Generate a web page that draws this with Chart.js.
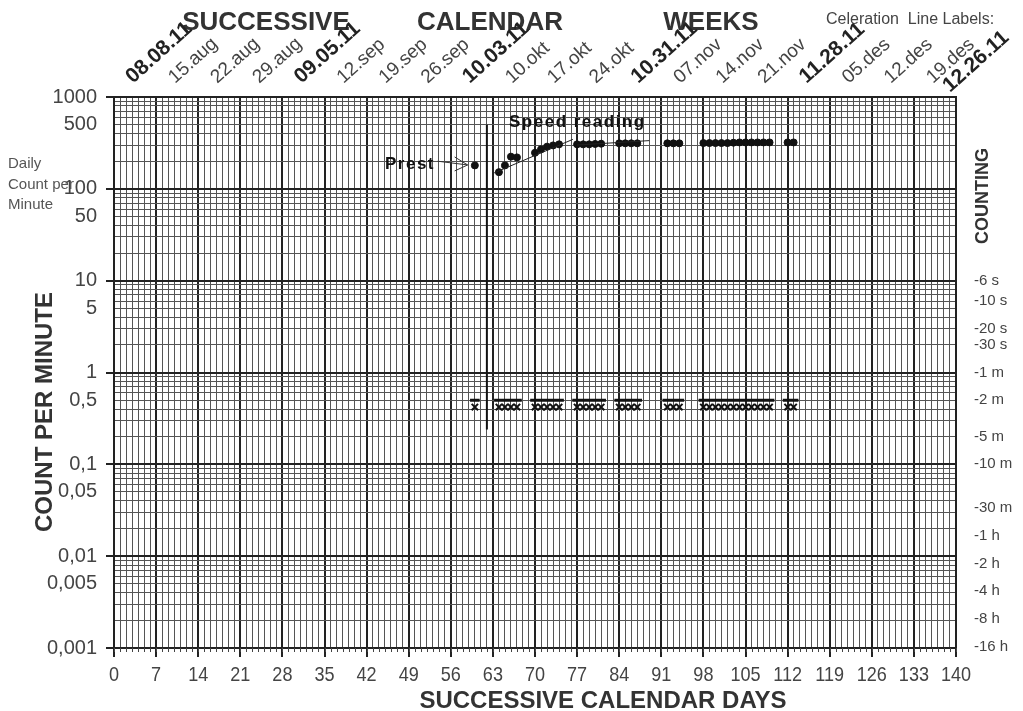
<!DOCTYPE html>
<html>
<head>
<meta charset="utf-8">
<script src="https://cdn.jsdelivr.net/npm/chart.js@4.4.1/dist/chart.umd.min.js"></script>
<style>
  body { margin: 0; background: #fff; }
  #wrap { width: 1023px; height: 711px; }
</style>
</head>
<body>
<div id="wrap"><canvas id="scc"></canvas></div>
<script>
var dayMin = 0, dayMax = 140, dayStep = 7;

// top axis: calendar weeks (every 7 days), the bold ones start a 4 week block
var weekLabels = ['08.08.11', '15.aug', '22.aug', '29.aug', '09.05.11', '12.sep', '19.sep', '26.sep',
	'10.03.11', '10.okt', '17.okt', '24.okt', '10.31.11', '07.nov', '14.nov', '21.nov',
	'11.28.11', '05.des', '12.des', '19.des', '12.26.11'];

var leftTickValues = [1000, 500, 100, 50, 10, 5, 1, 0.5, 0.1, 0.05, 0.01, 0.005, 0.001];
var leftTickLabels = ['1000', '500', '100', '50', '10', '5', '1', '0,5', '0,1', '0,05', '0,01', '0,005', '0,001'];

// counting times (right axis) as count per minute
var timingValues = [10, 6, 3, 2, 1, 0.5, 0.2, 0.1, 1 / 30, 1 / 60, 1 / 120, 1 / 240, 1 / 480, 1 / 960];
var timingLabels = ['-6 s', '-10 s', '-20 s', '-30 s', '-1 m', '-2 m', '-5 m', '-10 m', '-30 m', '-1 h', '-2 h', '-4 h', '-8 h', '-16 h'];

var speedDays = [60, 64, 65, 66, 67, 70, 71, 72, 73, 74, 77, 78, 79, 80, 81, 84, 85, 86, 87, 92, 93, 94,
	98, 99, 100, 101, 102, 103, 104, 105, 106, 107, 108, 109, 112, 113];
var speedValues = [180, 152, 180, 224, 220, 247, 269, 288, 297, 305, 305, 305, 305, 308, 310, 313, 313, 313, 313, 313, 313, 313,
	315, 315, 315, 315, 315, 318, 320, 320, 320, 320, 320, 320, 320, 320];
var errorValues = [0.42, 0.42, 0.42, 0.42, 0.42, 0.42, 0.42, 0.42, 0.42, 0.42, 0.42, 0.42, 0.42, 0.42, 0.42, 0.42, 0.42, 0.42, 0.42, 0.42, 0.42, 0.42,
	0.42, 0.42, 0.42, 0.42, 0.42, 0.42, 0.42, 0.42, 0.42, 0.42, 0.42, 0.42, 0.42, 0.42];

// record floor (2 minute timing) per group of days
var floorStart = [60, 64, 70, 77, 84, 92, 98, 112];
var floorEnd = [60, 67, 74, 81, 87, 94, 109, 113];
var floorValue = 0.5;

// celeration lines [day, value] start and end
var cel1Days = [63.2, 76.3], cel1Values = [149, 346];
var cel2Days = [77, 89], cel2Values = [300, 335];

var phaseDay = 62, phaseLow = 0.24, phaseHigh = 500;

var FONT = "'Liberation Sans', Arial, sans-serif";

function logGrid() {
	var v = [];
	for (var k = -3; k <= 2; k++) {
		for (var m = 1; m <= 9; m++) v.push(Number((m * Math.pow(10, k)).toPrecision(6)));
	}
	v.push(1000);
	return v;
}
function isDecade(v) {
	var l = Math.log10(v);
	return Math.abs(l - Math.round(l)) < 1e-6;
}
function findLabel(vals, labels, v) {
	for (var i = 0; i < vals.length; i++) {
		if (Math.abs(vals[i] - v) / vals[i] < 1e-6) return labels[i];
	}
	return '';
}

var speedData = speedDays.map(function (d, i) { return { x: d, y: speedValues[i] }; });
var errorData = speedDays.map(function (d, i) { return { x: d, y: errorValues[i] }; });
var floorData = [];
floorStart.forEach(function (s, i) {
	floorData.push({ x: s - 0.8, y: floorValue });
	floorData.push({ x: floorEnd[i] + 0.8, y: floorValue });
	floorData.push({ x: floorEnd[i] + 1, y: null });
});
var celData = [
	{ x: cel1Days[0], y: cel1Values[0] }, { x: cel1Days[1], y: cel1Values[1] },
	{ x: cel1Days[1] + 0.3, y: null },
	{ x: cel2Days[0], y: cel2Values[0] }, { x: cel2Days[1], y: cel2Values[1] }
];
var phaseData = [{ x: phaseDay, y: phaseLow }, { x: phaseDay, y: phaseHigh }];

var textPlugin = {
	id: 'sccText',
	afterDraw: function (chart) {
		var ctx = chart.ctx, xs = chart.scales.x, ys = chart.scales.y;
		var top = chart.chartArea.top, bottom = chart.chartArea.bottom;
		ctx.save();

		// short daily ticks under the day axis
		ctx.strokeStyle = '#444';
		ctx.lineWidth = 1;
		ctx.beginPath();
		for (var t = dayMin; t <= dayMax; t++) {
			var tx = Math.round(xs.getPixelForValue(t)) + 0.5;
			ctx.moveTo(tx, bottom);
			ctx.lineTo(tx, bottom + 4);
		}
		ctx.stroke();

		ctx.fillStyle = '#333';

		// header words
		ctx.font = 'bold 26px ' + FONT;
		ctx.textBaseline = 'alphabetic';
		ctx.textAlign = 'center';
		ctx.fillText('SUCCESSIVE', 266, 30);
		ctx.fillText('CALENDAR', 490, 30);
		ctx.fillText('WEEKS', 711, 30);
		ctx.font = '16px ' + FONT;
		ctx.fillStyle = '#444';
		ctx.textAlign = 'left';
		ctx.fillText('Celeration  Line Labels:', 826, 24);

		// week dates (the last one is pulled in so it fits the page)
		weekLabels.forEach(function (lab, i) {
			var px = xs.getPixelForValue(i * dayStep);
			var bold = i % 4 === 0;
			var last = i === weekLabels.length - 1;
			ctx.save();
			ctx.translate(last ? px - 6 : px + 19, last ? top - 4 : top - 13);
			ctx.rotate(-42 * Math.PI / 180);
			ctx.font = (bold ? 'bold 21px ' : '19px ') + FONT;
			ctx.fillStyle = bold ? '#222' : '#444';
			ctx.textAlign = 'left';
			ctx.fillText(lab, 0, 0);
			ctx.restore();
		});

		// day numbers, slightly condensed like the printed chart
		ctx.font = '21px ' + FONT;
		ctx.fillStyle = '#444';
		ctx.textAlign = 'center';
		ctx.textBaseline = 'middle';
		for (var d = dayMin; d <= dayMax; d += dayStep) {
			ctx.save();
			ctx.translate(xs.getPixelForValue(d), bottom + 27);
			ctx.scale(0.86, 1);
			ctx.fillText(String(d), 0, 0);
			ctx.restore();
		}

		// left side notes
		ctx.font = '15px ' + FONT;
		ctx.fillStyle = '#555';
		ctx.textAlign = 'left';
		ctx.fillText('Daily', 8, 164);
		ctx.fillText('Count per', 8, 185);
		ctx.fillText('Minute', 8, 205);

		ctx.fillStyle = '#333';
		ctx.textAlign = 'center';
		ctx.save();
		ctx.translate(45, 412);
		ctx.rotate(-Math.PI / 2);
		ctx.font = 'bold 24px ' + FONT;
		ctx.fillText('COUNT PER MINUTE', 0, 0);
		ctx.restore();

		ctx.save();
		ctx.translate(983, 196);
		ctx.rotate(-Math.PI / 2);
		ctx.font = 'bold 18px ' + FONT;
		ctx.fillText('COUNTING', 0, 0);
		ctx.restore();

		ctx.font = 'bold 24px ' + FONT;
		ctx.textBaseline = 'alphabetic';
		ctx.fillText('SUCCESSIVE CALENDAR DAYS', 603, 708);

		// phase labels
		ctx.font = 'bold 17px ' + FONT;
		ctx.letterSpacing = '1.5px';
		ctx.fillStyle = '#111';
		ctx.textAlign = 'left';
		ctx.fillText('Speed reading', 509, 127);
		ctx.fillText('Prest', 385, 169);
		ctx.letterSpacing = '0px';

		// arrow to the prest dot
		var x1 = xs.getPixelForValue(53.8), y1 = ys.getPixelForValue(200);
		var x2 = xs.getPixelForValue(58.8), y2 = ys.getPixelForValue(182);
		ctx.strokeStyle = '#333';
		ctx.lineWidth = 1;
		ctx.beginPath();
		ctx.moveTo(x1, y1);
		ctx.lineTo(x2, y2);
		ctx.moveTo(x2 - 13, y2 - 8);
		ctx.lineTo(x2, y2);
		ctx.lineTo(x2 - 13, y2 + 6);
		ctx.stroke();
		ctx.restore();
	}
};

var gridVals = logGrid();

new Chart(document.getElementById('scc'), {
	type: 'scatter',
	data: {
		datasets: [{
			label: 'phase',
			type: 'line',
			data: phaseData,
			borderColor: '#111',
			borderWidth: 2,
			pointRadius: 0
		}, {
			label: 'celeration',
			type: 'line',
			data: celData,
			borderColor: '#222',
			borderWidth: 1,
			pointRadius: 0,
			spanGaps: false
		}, {
			label: 'floor',
			type: 'line',
			data: floorData,
			borderColor: '#111',
			borderWidth: 3,
			pointRadius: 0,
			spanGaps: false
		}, {
			label: 'Speed reading',
			data: speedData,
			backgroundColor: '#111',
			borderColor: '#111',
			pointRadius: 3.5
		}, {
			label: 'errors',
			data: errorData,
			pointStyle: 'crossRot',
			borderColor: '#111',
			borderWidth: 2,
			pointRadius: 4.5
		}]
	},
	options: {
		responsive: true,
		maintainAspectRatio: false,
		animation: false,
		layout: { padding: { top: 97, left: 0, right: 0, bottom: 0 } },
		plugins: { legend: { display: false }, tooltip: { enabled: false } },
		scales: {
			x: {
				type: 'linear',
				min: dayMin,
				max: dayMax,
				afterFit: function (s) { s.height = 63; },
				afterBuildTicks: function (s) {
					var t = [];
					for (var d = dayMin; d <= dayMax; d++) t.push({ value: d });
					s.ticks = t;
				},
				border: { color: '#222', width: 2 },
				grid: {
					color: function (c) { return c.tick && c.tick.value % dayStep === 0 ? '#222' : '#555'; },
					lineWidth: function (c) { return c.tick && c.tick.value % dayStep === 0 ? 2 : 1; },
					tickLength: 9,
					tickColor: function (c) { return c.tick && c.tick.value % dayStep === 0 ? '#222' : 'rgba(0,0,0,0)'; },
					tickWidth: 2
				},
				ticks: {
					autoSkip: false,
					maxRotation: 0,
					callback: function () { return ''; }
				}
			},
			y: {
				type: 'logarithmic',
				min: 0.001,
				max: 1000,
				afterFit: function (s) { s.width = 114; },
				afterBuildTicks: function (s) {
					s.ticks = gridVals.map(function (v) { return { value: v }; });
				},
				border: { color: '#222', width: 2 },
				grid: {
					color: function (c) { return c.tick && isDecade(c.tick.value) ? '#222' : '#555'; },
					lineWidth: function (c) { return c.tick && isDecade(c.tick.value) ? 2 : 1; },
					tickLength: 8,
					tickColor: function (c) { return c.tick && isDecade(c.tick.value) ? '#222' : 'rgba(0,0,0,0)'; },
					tickWidth: 2
				},
				ticks: {
					autoSkip: false,
					padding: 9,
					color: '#444',
					font: { family: FONT, size: 20 },
					callback: function (v) { return findLabel(leftTickValues, leftTickLabels, v); }
				}
			},
			y2: {
				type: 'logarithmic',
				position: 'right',
				min: 0.001,
				max: 1000,
				afterFit: function (s) { s.width = 67; },
				afterBuildTicks: function (s) {
					s.ticks = timingValues.map(function (v) { return { value: v }; });
				},
				border: { color: '#222', width: 2 },
				grid: { drawOnChartArea: false, drawTicks: false },
				ticks: {
					autoSkip: false,
					padding: 18,
					color: '#444',
					font: { family: FONT, size: 15 },
					callback: function (v) { return findLabel(timingValues, timingLabels, v); }
				}
			}
		}
	},
	plugins: [textPlugin]
});
</script>
</body>
</html>
